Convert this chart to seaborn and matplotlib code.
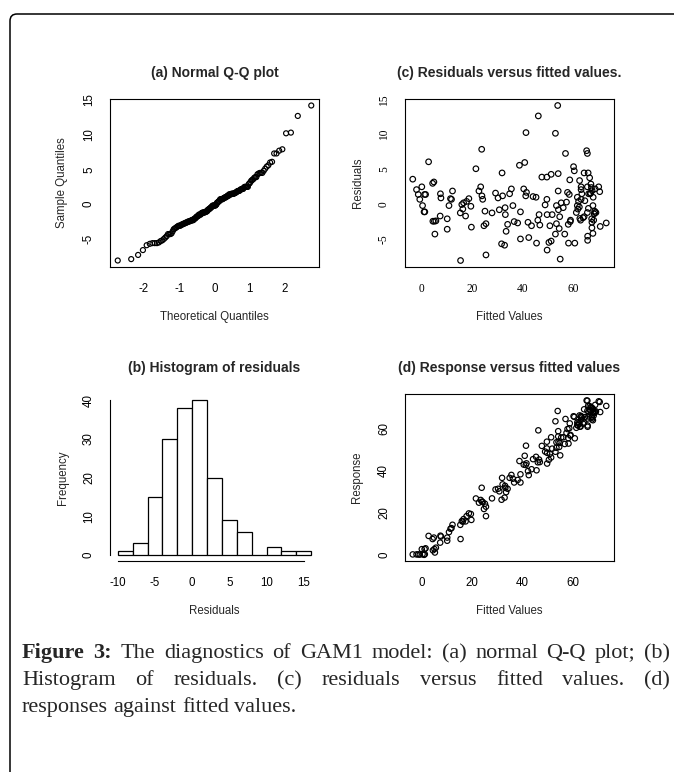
import numpy as np
import pandas as pd
import matplotlib
matplotlib.use("Agg")
import matplotlib.pyplot as plt
from matplotlib.patches import FancyBboxPatch
import seaborn as sns
from statistics import NormalDist

sns.set_style("white")
plt.rcParams['font.family'] = ['Liberation Sans', 'DejaVu Sans']
plt.rcParams['axes.unicode_minus'] = False

# values: fitted value / residual pairs
fitted = [-3.6, -2.1, -1.4, -0.8, 0.0, 0.3, 0.9, 1.2, 1.1, 1.5,
          2.7, 4.3, 4.8, 4.4, 5.0, 5.6, 5.2, 7.4, 7.6, 7.3,
          10.1, 10.1, 10.8, 11.4, 11.8, 12.2, 15.3, 15.4, 15.9, 16.6,
          16.3, 17.4, 17.8, 18.7, 19.5, 19.7, 21.5, 22.7, 23.4, 23.9,
          24.2, 23.8, 24.7, 25.1, 25.5, 25.5, 27.9, 29.3, 30.3, 30.8,
          31.9, 32.1, 31.7, 32.9, 33.1, 33.2, 33.5, 34.1, 34.9, 35.6,
          36.2, 36.7, 38.1, 38.8, 39.2, 39.2, 40.5, 40.9, 41.4, 41.6,
          41.3, 42.2, 42.5, 43.6, 44.2, 45.4, 45.6, 46.1, 46.3, 46.6,
          46.9, 47.7, 49.0, 49.7, 49.7, 49.8, 49.8, 50.5, 50.9, 51.4,
          51.4, 51.8, 53.1, 53.1, 53.5, 53.5, 54.0, 54.2, 54.2, 54.3,
          54.6, 54.8, 55.0, 55.4, 56.2, 56.8, 57.1, 57.5, 57.9, 58.2,
          58.3, 58.6, 58.8, 59.0, 59.1, 60.3, 60.6, 60.8, 61.4, 61.8,
          61.8, 62.0, 62.3, 62.7, 62.8, 63.1, 63.3, 63.3, 63.3, 63.6,
          64.1, 64.5, 64.5, 64.8, 65.5, 65.8, 65.8, 65.8, 65.9, 65.9,
          66.1, 66.3, 66.7, 66.9, 67.2, 67.4, 67.5, 67.6, 67.6, 67.7,
          68.0, 68.0, 68.1, 68.3, 68.5, 68.8, 68.9, 69.2, 70.3, 70.7,
          70.9, 73.3, 66.2, 68.7, 62.6, 67.1]
residuals = [3.6, 2.1, 1.4, 0.7, 2.5, -0.2, -1.1, -1.1, 1.4, 1.4,
             6.1, 3.0, 3.2, -2.45, -2.45, -2.4, -4.3, 1.5, 0.9, -1.7,
             -2.1, -3.6, -0.2, 0.8, 0.7, 1.9, -1.25, -8.1, -0.05, 0.2,
             -0.7, -1.7, 0.4, 0.8, -0.3, -3.3, 5.1, 1.9, 2.5, 1.2,
             0.7, 7.9, -3.1, -1.0, -2.8, -7.3, -1.25, 1.6, 0.9, -0.8,
             4.5, 1.2, -5.7, -5.9, -0.5, -1.5, -3.9, -2.9, 1.5, 2.2,
             -0.2, -2.5, -2.7, 5.6, -1.1, -5.0, 2.2, 6.0, 10.3, 1.7,
             1.2, -2.6, -4.8, -3.1, 1.1, 1.0, -5.6, -2.3, 12.7, -1.5,
             -3.0, 3.9, -0.1, 0.7, 3.9, -1.5, -6.6, -5.5, -3.1, 4.3,
             -5.3, -1.5, 10.2, -4.3, -0.2, -2.8, 14.2, 4.4, 1.9, -0.8,
             -3.5, -1.8, -7.9, 0.2, -0.5, -4.3, 7.3, 0.3, 1.7, -2.9,
             -5.6, 1.4, 3.5, -2.5, -2.3, 5.4, 4.8, -5.6, -1.2, 1.0,
             -0.2, -0.7, 0.4, 3.4, -2.05, -2.3, 2.5, 2.1, 0.7, 1.5,
             -1.95, -1.8, 4.5, 0.5, 7.7, 7.3, 2.5, -1.2, -4.6, -5.2,
             4.5, 1.5, 3.8, 1.5, 2.9, 2.4, -2.1, -2.6, -3.4, 1.95,
             -0.2, -4.2, 1.0, -2.3, -1.4, -1.2, 2.2, -1.2, 2.5, 1.8,
             -3.2, -2.7, -0.6, -1.0, -0.4, 1.6]

hist_bins = list(range(-10, 17, 2))
qq_xticks = [-2, -1, 0, 1, 2]
resid_yticks = [-5, 0, 5, 10, 15]
fitted_xticks = [0, 20, 40, 60]
response_yticks = [0, 20, 40, 60]
hist_xticks = [-10, -5, 0, 5, 10, 15]
hist_yticks = [0, 10, 20, 30, 40]

df = pd.DataFrame({'fitted': fitted, 'residual': residuals})
df['response'] = df['fitted'] + df['residual']

n = len(residuals)
probs = (np.arange(1, n + 1) - 0.5) / n
qq = pd.DataFrame({'theoretical': [NormalDist().inv_cdf(p) for p in probs],
                   'sample': np.sort(residuals)})

W, H = 674, 772
fig = plt.figure(figsize=(W / 100, H / 100), dpi=100)
lab_size = 8.3


def add_ax(left, top, right, bottom):
    return fig.add_axes([left / W, 1 - bottom / H, (right - left) / W, (bottom - top) / H])


def rlim(v):
    lo, hi = min(v), max(v)
    d = (hi - lo) * 0.04
    return lo - d, hi + d


def r_style(ax, title, xlabel, ylabel, box=True):
    for s in ax.spines.values():
        s.set_linewidth(0.8)
        s.set_color('black')
        s.set_visible(box)
    ax.tick_params(length=4.3, width=0.75, pad=7.5, labelsize=lab_size, colors='black', direction='out')
    ax.tick_params(axis='y', labelrotation=90, pad=6.5)
    for lbl in ax.get_yticklabels():
        lbl.set_va('center')
    hpx = ax.get_position().height * H
    wpx = ax.get_position().width * W
    ax.set_xlabel(xlabel, fontsize=lab_size)
    ax.set_ylabel(ylabel, fontsize=lab_size)
    ax.xaxis.label.set_va('center')
    ax.yaxis.label.set_va('center')
    ax.xaxis.set_label_coords(0.5, -50 / hpx)
    ax.yaxis.set_label_coords(-47.5 / wpx, 0.5)
    ax.text(0.5, 1 + 26 / hpx, title, transform=ax.transAxes, ha='center', va='center',
            fontsize=10, weight='bold')


pt_kw = dict(marker='o', facecolor='none', edgecolor='black', linewidth=0.85, legend=False)

# (a) normal Q-Q plot
ax_a = add_ax(110, 99.3, 319, 266.7)
sns.scatterplot(data=qq, x='theoretical', y='sample', ax=ax_a, s=13, **pt_kw)
ax_a.set_xlim(rlim(qq['theoretical']))
ax_a.set_ylim(rlim(qq['sample']))
ax_a.set_xticks(qq_xticks)
ax_a.set_yticks(resid_yticks)
r_style(ax_a, '(a) Normal Q-Q plot', 'Theoretical Quantiles', 'Sample Quantiles')

# (c) residuals vs fitted
ax_c = add_ax(405, 99.3, 614, 266.7)
sns.scatterplot(data=df, x='fitted', y='residual', ax=ax_c, s=16, **pt_kw)
ax_c.set_xlim(rlim(df['fitted']))
ax_c.set_ylim(rlim(df['residual']))
ax_c.set_xticks(fitted_xticks, [str(t) for t in fitted_xticks], fontfamily='Liberation Serif')
ax_c.set_yticks(resid_yticks, [str(t) for t in resid_yticks], fontfamily='Liberation Serif')
r_style(ax_c, '(c) Residuals versus fitted values.', 'Fitted Values', 'Residuals')

# (b) histogram of residuals
ax_b = add_ax(110, 394.3, 319, 561)
sns.histplot(x=residuals, bins=hist_bins, ax=ax_b, color='white', edgecolor='black',
             linewidth=0.9, alpha=1)
ax_b.set_xlim(rlim(hist_bins))
ax_b.set_ylim(rlim([0, 40]))
ax_b.set_xticks(hist_xticks)
ax_b.set_yticks(hist_yticks)
r_style(ax_b, '(b) Histogram of residuals', 'Residuals', 'Frequency', box=False)
ax_b.spines['left'].set_visible(True)
ax_b.spines['bottom'].set_visible(True)
ax_b.spines['left'].set_bounds(hist_yticks[0], hist_yticks[-1])
ax_b.spines['bottom'].set_bounds(hist_xticks[0], hist_xticks[-1])

# (d) response vs fitted
ax_d = add_ax(405, 394.3, 614, 561)
sns.scatterplot(data=df, x='fitted', y='response', ax=ax_d, s=15, **pt_kw)
ax_d.set_xlim(rlim(df['fitted']))
ax_d.set_ylim(rlim(df['response']))
ax_d.set_xticks(fitted_xticks)
ax_d.set_yticks(response_yticks)
r_style(ax_d, '(d) Response versus fitted values', 'Fitted Values', 'Response')

# frame with rounded top-left corner
frame = FancyBboxPatch((10, -40), 760, H - 14 + 40, boxstyle='round,pad=0,rounding_size=7',
                       transform=None, fill=False, edgecolor='black', linewidth=1.1)
fig.add_artist(frame)

# caption, first two lines justified
renderer = fig.canvas.get_renderer()
cap_size = 16


def caption_line(parts, y, x0, x1=None):
    texts = []
    for word, bold in parts:
        t = fig.text(0, 1 - y / H, word, fontsize=cap_size, family='Liberation Serif',
                     weight='bold' if bold else 'normal', va='baseline', ha='left')
        texts.append(t)
    widths = [t.get_window_extent(renderer).width for t in texts]
    if x1 is None:
        gap = cap_size * 100 / 72 * 0.25
    else:
        gap = (x1 - x0 - sum(widths)) / (len(texts) - 1)
    x = x0
    for t, w in zip(texts, widths):
        t.set_x(x / W)
        x += w + gap


line1 = [('Figure', True), ('3:', True)] + [(w, False) for w in
         'The diagnostics of GAM1 model: (a) normal Q-Q plot; (b)'.split()]
line2 = [(w, False) for w in 'Histogram of residuals. (c) residuals versus fitted values. (d)'.split()]
line3 = [(w, False) for w in 'responses against fitted values.'.split()]
caption_line(line1, 658, 22, 670)
caption_line(line2, 685, 22, 670)
caption_line(line3, 712, 22)

fig.savefig('out.png', dpi=100)
